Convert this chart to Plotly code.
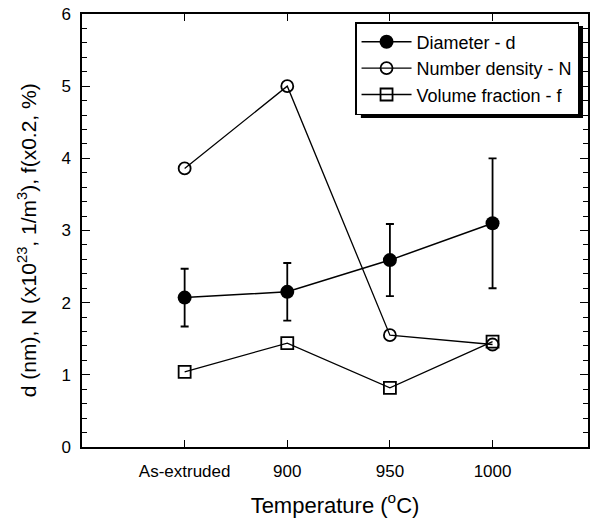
import plotly.graph_objects as go

categories = ["As-extruded", "900", "950", "1000"]
diameter = [2.07, 2.15, 2.59, 3.1]
diameter_err = [0.4, 0.4, 0.5, 0.9]
number_density = [3.86, 5.0, 1.55, 1.42]
volume_fraction = [1.04, 1.44, 0.82, 1.46]

xpos = list(range(len(categories)))
FONT = "Liberation Sans, Arial, sans-serif"

fig = go.Figure()
fig.add_trace(go.Scatter(
    x=xpos, y=diameter, name="Diameter - d", mode="lines+markers",
    line=dict(color="black", width=1.5),
    marker=dict(symbol="circle", size=14, color="black"),
    error_y=dict(type="data", array=diameter_err, color="black", thickness=1.8, width=4),
))
fig.add_trace(go.Scatter(
    x=xpos, y=number_density, name="Number density - N", mode="lines+markers",
    line=dict(color="black", width=1.3),
    marker=dict(symbol="circle-open", size=12, color="black", line=dict(width=1.8)),
))
fig.add_trace(go.Scatter(
    x=xpos, y=volume_fraction, name="Volume fraction - f", mode="lines+markers",
    line=dict(color="black", width=1.3),
    marker=dict(symbol="square-open", size=12, color="black", line=dict(width=1.8)),
))

PW, PH, L, T = 508, 433, 82, 14
def px(x):
    return (x - L) / PW
def py(y):
    return 1 - (y - T) / PH

fig.update_layout(
    width=595, height=523,
    margin=dict(l=82, r=5, t=14, b=76),
    paper_bgcolor="white", plot_bgcolor="white",
    font=dict(family=FONT, color="black"),
    showlegend=True,
    legend=dict(
        x=px(581), y=py(22), xanchor="right", yanchor="top",
        bgcolor="white", bordercolor="black", borderwidth=1.5,
        font=dict(size=18, family=FONT), itemwidth=50,
        tracegroupgap=0,
    ),
    xaxis=dict(
        range=[-1, 3.93], tickmode="array", tickvals=xpos, ticktext=categories,
        showline=True, linecolor="black", linewidth=1.5, mirror="ticks",
        ticks="inside", ticklen=7, tickwidth=1.3, tickcolor="black",
        showgrid=False, zeroline=False, ticklabelstandoff=8,
        tickfont=dict(size=17, family=FONT),
        title=dict(text="Temperature (<sup>o</sup>C)", font=dict(size=22, family=FONT), standoff=17),
    ),
    yaxis=dict(
        range=[0, 6], tickvals=[0, 1, 2, 3, 4, 5, 6],
        showline=True, linecolor="black", linewidth=1.5, mirror="ticks",
        ticks="inside", ticklen=8, tickwidth=1.3, tickcolor="black",
        minor=dict(dtick=0.2, ticks="inside", ticklen=5, tickwidth=1.1, tickcolor="black"),
        showgrid=False, zeroline=False, ticklabelstandoff=6,
        tickfont=dict(size=17, family=FONT),
    ),
    annotations=[dict(
        text="d (nm), N (x10<sup>23</sup>, 1/m<sup>3</sup>), f(x0.2, %)",
        xref="paper", yref="paper", x=px(27), y=py(240),
        xanchor="center", yanchor="middle", textangle=-90, showarrow=False,
        font=dict(size=21, family=FONT),
    )],
    shapes=[dict(type="rect", xref="paper", yref="paper",
                 x0=px(362), x1=px(585),
                 y0=py(118), y1=py(26),
                 fillcolor="black", line=dict(width=0), layer="above")],
)

fig.write_html("out.html")
